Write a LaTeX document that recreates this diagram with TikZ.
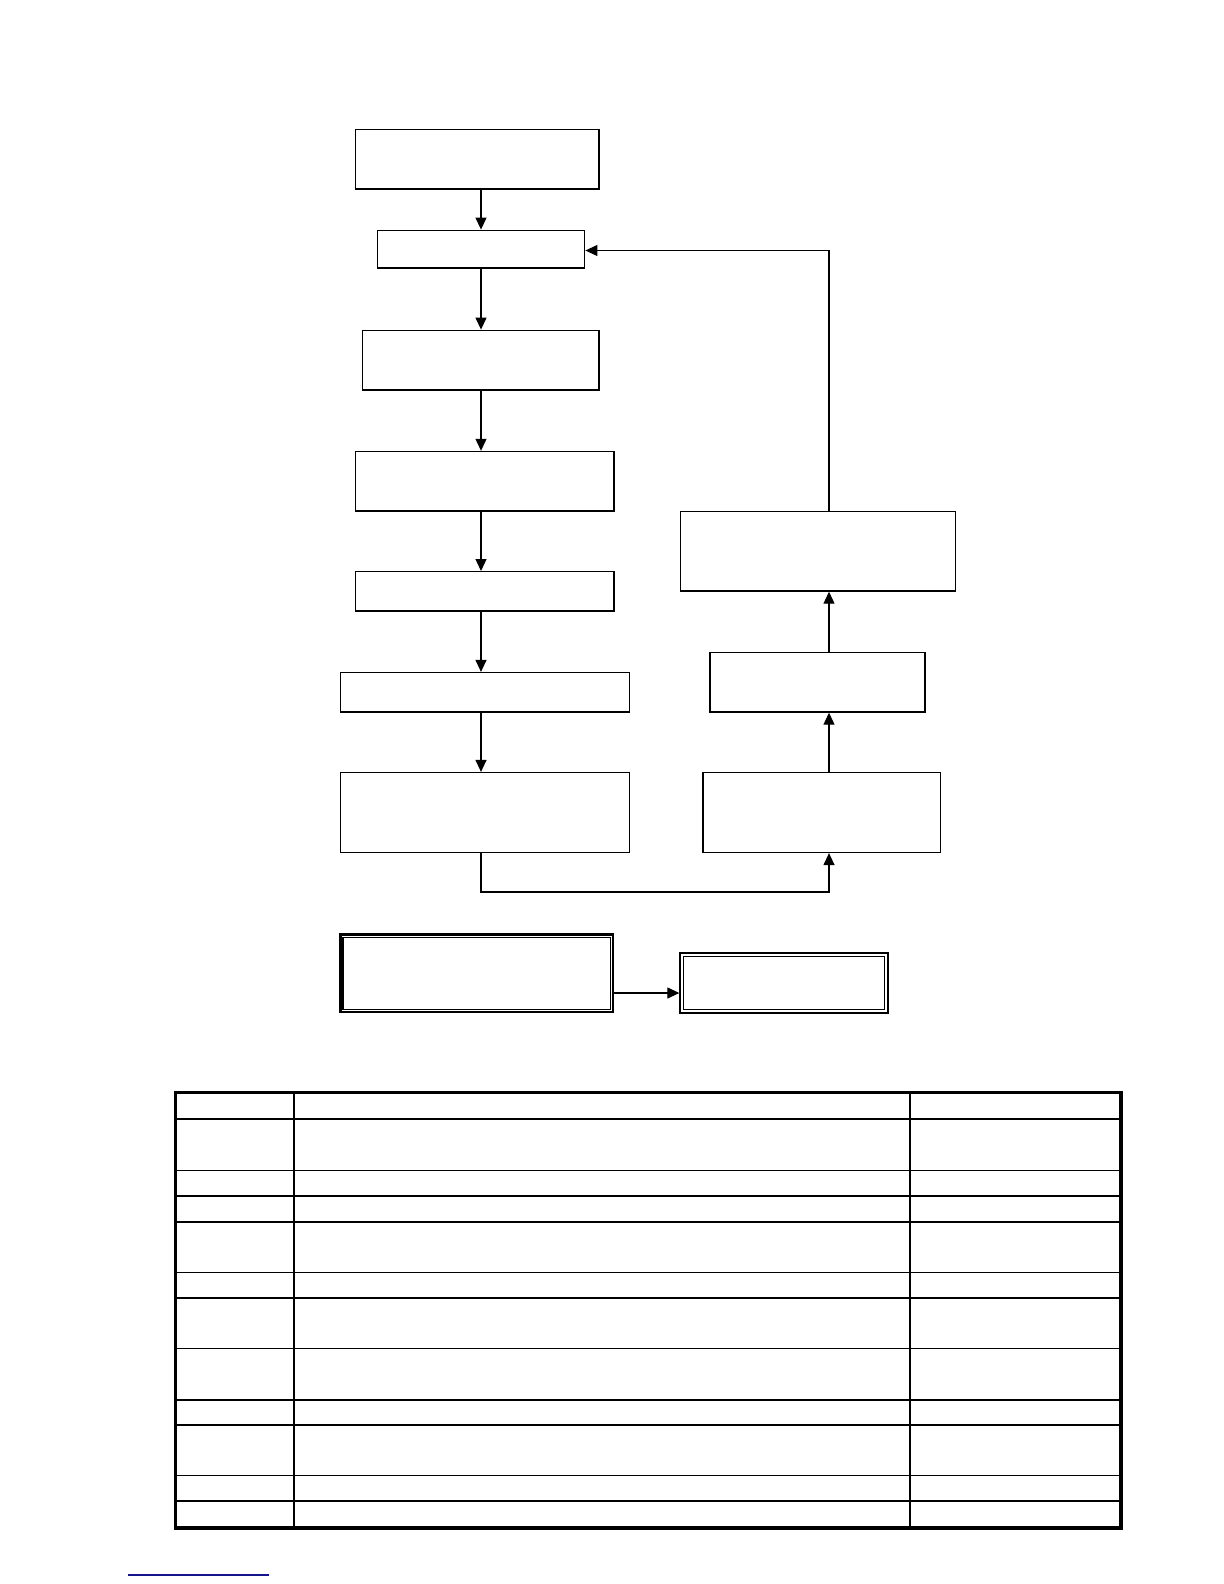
\documentclass[tikz,border=0pt]{standalone}
\usetikzlibrary{arrows.meta,fit}
\begin{document}
\begin{tikzpicture}[x=0.5pt,y=-0.5pt,
  box/.style={draw, line width=0.7pt, inner sep=0pt},
  thickbox/.style={draw, line width=1.35pt, inner sep=0pt},
  thinbox/.style={draw, line width=0.65pt, inner sep=0pt},
  arr/.style={line width=0.6pt, -{Triangle[length=6pt,width=5.5pt]}},
  tbl/.style={line width=0.7pt},
  tblborder/.style={line width=1.6pt}]
\useasboundingbox (0,0) rectangle (1224,1584);
% left column
\node[box, fit={(355.5,129.3) (598.9,188.9)}] (b1) {};
\node[box, fit={(377.7,230.3) (584.7,268)}] (b2) {};
\node[box, fit={(362.6,330.3) (598.9,389.8)}] (b3) {};
\node[box, fit={(355.5,451.5) (614,511)}] (b4) {};
\node[box, fit={(355.5,571.7) (614,611)}] (b5) {};
\node[box, fit={(340.4,672.6) (629.2,712)}] (b6) {};
\node[box, fit={(340.4,772.6) (629.2,852.4)}] (b7) {};
% right column
\node[box, fit={(703,772.6) (940.2,852.4)}] (b8) {};
\node[box, fit={(710,652.4) (925,712)}] (b9) {};
\node[box, fit={(680.3,511.3) (955.7,591)}] (b10) {};
% double boxes
\node[thickbox, fit={(340.3,934.5) (613,1012)}] (d1) {};
\draw[thinbox] ([shift={(4,4)}]d1.north west) rectangle ([shift={(-4,-4)}]d1.south east);
\node[thinbox, fit={(680,953) (888,1013)}] (d2) {};
\draw[thinbox] ([shift={(4,4)}]d2.north west) rectangle ([shift={(-4,-4)}]d2.south east);
% axes
\coordinate (lx) at (481,0);
\coordinate (rx) at (829,0);
\coordinate (bot) at (0,892);
\coordinate (top) at (0,250.5);
\coordinate (dy) at (0,993);
% connectors left
\draw[arr] (lx |- b1.south) -- (lx |- b2.north);
\draw[arr] (lx |- b2.south) -- (lx |- b3.north);
\draw[arr] (lx |- b3.south) -- (lx |- b4.north);
\draw[arr] (lx |- b4.south) -- (lx |- b5.north);
\draw[arr] (lx |- b5.south) -- (lx |- b6.north);
\draw[arr] (lx |- b6.south) -- (lx |- b7.north);
% bottom link
\draw[arr] (lx |- b7.south) -- (lx |- bot) -- (rx |- bot) -- (rx |- b8.south);
\draw[arr] (rx |- b8.north) -- (rx |- b9.south);
\draw[arr] (rx |- b9.north) -- (rx |- b10.south);
\draw[arr] (rx |- b10.north) -- (rx |- top) -- (b2.east |- top);
% double box link
\draw[arr] (d1.east |- dy) -- (d2.west |- dy);
% table
\draw[tblborder] (175.7,1092.8) rectangle (1121,1528);
\foreach \yy in {1119,1170.6,1195.8,1222,1272.6,1297.9,1348.4,1399.9,1425.1,1475.6,1500.9}
  \draw[tbl] (175.7,\yy) -- (1121,\yy);
\draw[tbl] (293.9,1092.8) -- (293.9,1528);
\draw[tbl] (910,1092.8) -- (910,1528);
% blue underline
\draw[line width=1pt, color={rgb,255:red,20;green,20;blue,140}] (128,1575) -- (269,1575);
\end{tikzpicture}
\end{document}
